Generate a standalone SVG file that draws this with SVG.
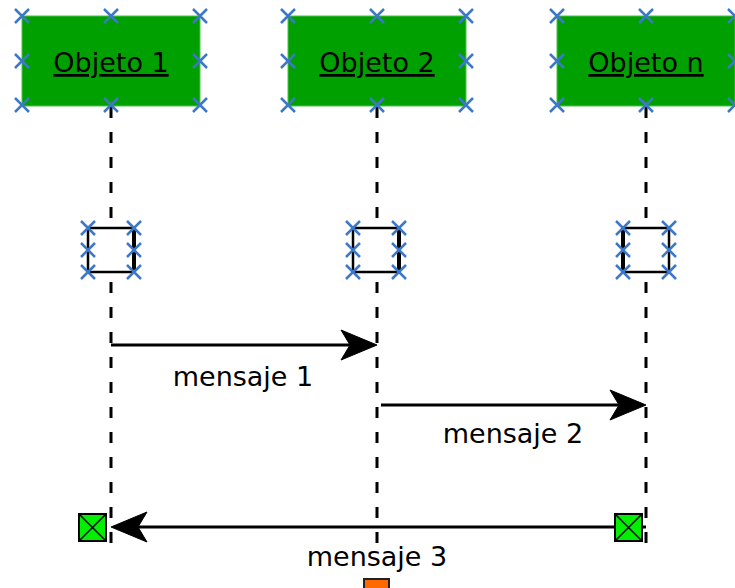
<svg xmlns="http://www.w3.org/2000/svg" width="735" height="588" viewBox="0 0 735 588">
<defs>
<style>
.obj{fill:#00A000;stroke:#4CC04C;stroke-width:1}
.lbl{font-family:"DejaVu Sans",Verdana,sans-serif;font-size:27px;fill:#000;text-anchor:middle}
.u{text-decoration:underline}
.life{stroke:#000;stroke-width:3;stroke-dasharray:11 14;fill:none}
.act{fill:#fff;stroke:#000;stroke-width:2.5}
.msg{stroke:#000;stroke-width:3;fill:none}
.head{fill:#000;stroke:#000;stroke-width:1}
.x{stroke:#3C78C8;stroke-width:2.5;fill:none}
.gate{fill:#00F000;stroke:#000;stroke-width:2}
</style>
<path id="cx" class="x" d="M-7,-7L7,7M-7,7L7,-7"/>
</defs>
<g id="lifelines">
<line class="life" x1="111" y1="107" x2="111" y2="548"/>
<line class="life" x1="377" y1="107" x2="377" y2="546"/>
<line class="life" x1="646" y1="107" x2="646" y2="548"/>
</g>
<g id="obj1">
<rect class="obj" x="22" y="16" width="178" height="90"/>
<text class="lbl u" x="111" y="72">Objeto 1</text>
<use href="#cx" x="22" y="16"/><use href="#cx" x="111" y="16"/><use href="#cx" x="200" y="16"/>
<use href="#cx" x="22" y="61"/><use href="#cx" x="200" y="61"/>
<use href="#cx" x="22" y="105"/><use href="#cx" x="111" y="105"/><use href="#cx" x="200" y="105"/>
</g>
<g id="obj2">
<rect class="obj" x="288" y="16" width="178" height="90"/>
<text class="lbl u" x="377" y="72">Objeto 2</text>
<use href="#cx" x="288" y="16"/><use href="#cx" x="377" y="16"/><use href="#cx" x="466" y="16"/>
<use href="#cx" x="288" y="61"/><use href="#cx" x="466" y="61"/>
<use href="#cx" x="288" y="105"/><use href="#cx" x="377" y="105"/><use href="#cx" x="466" y="105"/>
</g>
<g id="objn">
<rect class="obj" x="557" y="16" width="178" height="90"/>
<text class="lbl u" x="646" y="72">Objeto n</text>
<use href="#cx" x="557" y="16"/><use href="#cx" x="646" y="16"/><use href="#cx" x="735" y="16"/>
<use href="#cx" x="557" y="61"/><use href="#cx" x="735" y="61"/>
<use href="#cx" x="557" y="105"/><use href="#cx" x="646" y="105"/><use href="#cx" x="735" y="105"/>
</g>
<g id="act1">
<rect class="act" x="88" y="228" width="46" height="44"/>
<line x1="134" y1="228" x2="134" y2="272" stroke="#000" stroke-width="4"/>
<use href="#cx" x="88" y="228"/><use href="#cx" x="88" y="250"/><use href="#cx" x="88" y="272"/>
<use href="#cx" x="134" y="228"/><use href="#cx" x="134" y="250"/><use href="#cx" x="134" y="272"/>
</g>
<g id="act2">
<rect class="act" x="353" y="228" width="46" height="44"/>
<line x1="399" y1="228" x2="399" y2="272" stroke="#000" stroke-width="4"/>
<use href="#cx" x="353" y="228"/><use href="#cx" x="353" y="250"/><use href="#cx" x="353" y="272"/>
<use href="#cx" x="399" y="228"/><use href="#cx" x="399" y="250"/><use href="#cx" x="399" y="272"/>
</g>
<g id="actn">
<rect class="act" x="623" y="228" width="46" height="44"/>
<line x1="623" y1="228" x2="623" y2="272" stroke="#000" stroke-width="4"/>
<use href="#cx" x="623" y="228"/><use href="#cx" x="623" y="250"/><use href="#cx" x="623" y="272"/>
<use href="#cx" x="669" y="228"/><use href="#cx" x="669" y="250"/><use href="#cx" x="669" y="272"/>
</g>
<g id="gates">
<rect class="gate" x="79" y="514" width="27" height="27"/>
<path d="M79,514L106,541M106,514L79,541" stroke="#000" stroke-width="1.5"/>
<rect class="gate" x="615" y="514" width="27" height="27"/>
<path d="M615,514L642,541M642,514L615,541" stroke="#000" stroke-width="1.5"/>
<line x1="642" y1="527" x2="646" y2="527" stroke="#000" stroke-width="3"/>
</g>
<g id="connectors">
<line class="msg" x1="111" y1="345" x2="355" y2="345"/>
<path class="head" d="M377,345L341,330L350,345L341,360Z"/>
<line class="msg" x1="381" y1="405" x2="624" y2="405"/>
<path class="head" d="M646,405L610,390L619,405L610,420Z"/>
<line class="msg" x1="615" y1="527" x2="133" y2="527"/>
<path class="head" d="M111,527L147,512L138,527L147,542Z"/>
</g>
<g id="labels">
<text class="lbl" x="243" y="386">mensaje 1</text>
<text class="lbl" x="513" y="443">mensaje 2</text>
<text class="lbl" x="377" y="566">mensaje 3</text>
</g>
<g id="orange">
<rect x="364" y="579" width="25" height="14" fill="#FF6A00" stroke="#222" stroke-width="2"/>
</g>
</svg>
